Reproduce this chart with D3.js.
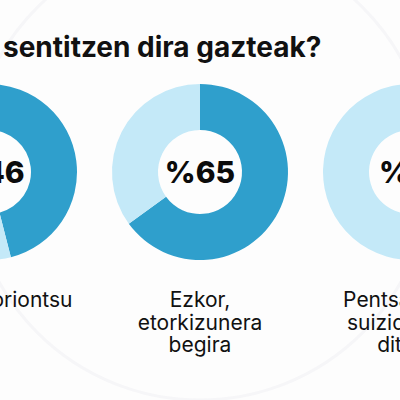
<!DOCTYPE html>
<html lang="eu">
<head>
<meta charset="UTF-8">
<style>
  html, body { margin: 0; padding: 0; background: #fdfdfd; }
  svg { display: block; }
</style>
</head>
<body>
<svg width="400" height="400"></svg>
<script src="https://d3js.org/d3.v7.min.js"></script>
<script>
  // datuak
  const titleText = "sentitzen dira gazteak?";
  const categories = ["zoriontsu", "ezkor", "suizida"];
  const values = [46, 65, 16];
  const labelLines = [
    ["Nahiko zoriontsu"],
    ["Ezkor,", "etorkizunera", "begira"],
    ["Pentsamendu", "suizidak izan", "dituzte"]
  ];

  const W = 400, H = 400;
  const cy = 172, rOuter = 88, rInner = 42;
  const dark = "#2f9fcc", light = "#c4e9f8";

  const svg = d3.select("svg");

  // background ring, very faint
  svg.append("circle")
    .attr("cx", 200).attr("cy", 170).attr("r", 230)
    .attr("fill", "none").attr("stroke", "#f6f6f8").attr("stroke-width", 3);

  const x = d3.scalePoint()
    .domain(categories)
    .range([-11, 411]);

  const pie = d3.pie().sort(null).value(d => d);
  const arc = d3.arc().innerRadius(rInner).outerRadius(rOuter);

  const g = svg.selectAll("g.donut")
    .data(categories)
    .enter()
    .append("g")
    .attr("class", "donut")
    .attr("transform", d => `translate(${x(d)},${cy})`);

  g.selectAll("path")
    .data((d, i) => pie([values[i], 100 - values[i]]))
    .enter()
    .append("path")
    .attr("d", arc)
    .attr("fill", (d, i) => i === 0 ? dark : light);

  g.append("text")
    .attr("text-anchor", "middle")
    .attr("y", 10.5)
    .attr("font-family", "Inter, 'Noto Sans', sans-serif")
    .attr("font-weight", 800)
    .attr("font-size", 30)
    .attr("fill", "#0b0b0b")
    .text((d, i) => "%" + values[i]);

  // kategoria etiketak
  const lab = svg.selectAll("text.lab")
    .data(categories)
    .enter()
    .append("text")
    .attr("class", "lab")
    .attr("text-anchor", "middle")
    .attr("font-family", "Inter, 'Noto Sans', sans-serif")
    .attr("font-size", 21)
    .attr("fill", "#111");

  lab.selectAll("tspan")
    .data((d, i) => labelLines[i].map(t => ({ t, cx: x(d) })))
    .enter()
    .append("tspan")
    .attr("x", d => d.cx)
    .attr("y", (d, j) => 307 + j * 22.5)
    .text(d => d.t);

  svg.append("text")
    .attr("x", 3)
    .attr("y", 57)
    .attr("font-family", "Inter, 'Noto Sans', sans-serif")
    .attr("font-weight", 700)
    .attr("font-size", 28)
    .attr("fill", "#111")
    .text(titleText);
</script>
</body>
</html>
